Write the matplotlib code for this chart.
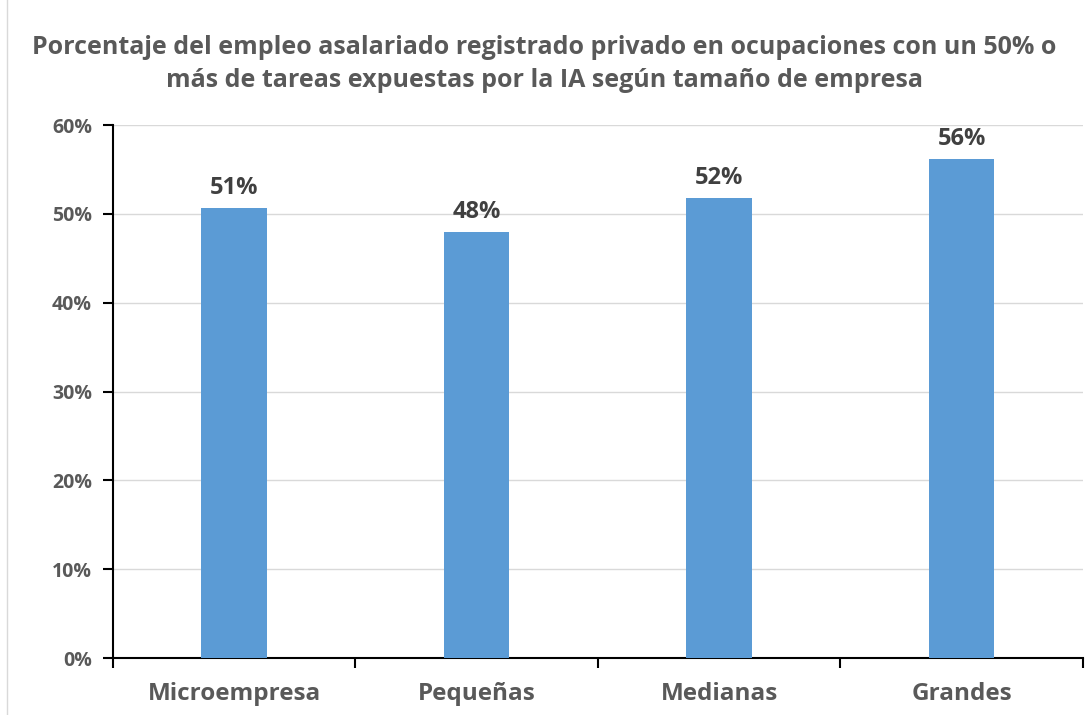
import matplotlib
matplotlib.use("Agg")
import matplotlib.pyplot as plt
from matplotlib.lines import Line2D
from matplotlib.ticker import FuncFormatter, MultipleLocator

categories = ["Microempresa", "Pequeñas", "Medianas", "Grandes"]
values = [50.7, 48.0, 51.8, 56.2]
labels = ["51%", "48%", "52%", "56%"]
title = ("Porcentaje del empleo asalariado registrado privado en ocupaciones con un 50% o\n"
         "más de tareas expuestas por la IA según tamaño de empresa")

plt.rcParams["font.family"] = ["Open Sans", "DejaVu Sans"]
plt.rcParams["font.weight"] = "bold"

fig = plt.figure(figsize=(10.85, 7.15), dpi=100)
ax = fig.add_axes([0.104, 0.0797, 0.894, 0.7453])

x = range(len(categories))
ax.bar(x, values, width=0.27, color="#5B9BD5", zorder=3)
for xi, v, lab in zip(x, values, labels):
    ax.text(xi, v + 0.9, lab, ha="center", va="bottom", fontsize=17,
            fontweight="bold", color="#404040")

ax.set_xlim(-0.5, len(categories) - 0.5)
ax.set_ylim(0, 60)
ax.yaxis.set_major_locator(MultipleLocator(10))
ax.yaxis.set_major_formatter(FuncFormatter(lambda v, p: f"{v:.0f}%"))
ax.grid(axis="y", color="#D9D9D9", linewidth=1, zorder=0)

ax.set_xticks(list(x))
ax.set_xticklabels(categories, fontsize=17.5, fontweight="bold", color="#595959")
ax.tick_params(axis="x", length=0, pad=17)
ax.set_xticks([i + 0.5 for i in range(-1, len(categories))], minor=True)
ax.tick_params(axis="x", which="minor", length=7, width=1.5, color="black")
ax.tick_params(axis="y", labelsize=14, labelcolor="#595959", length=7,
               width=1.5, pad=8)
for lab in ax.get_yticklabels():
    lab.set_fontweight("bold")

for s in ["top", "right"]:
    ax.spines[s].set_visible(False)
ax.spines["left"].set_linewidth(1.5)
ax.spines["bottom"].set_linewidth(1.5)

fig.text(0.502, 0.951, title, ha="center", va="top", fontsize=18,
         fontweight="bold", color="#595959", linespacing=1.4)
fig.add_artist(Line2D([0.0065, 0.0065], [0.0, 1.0], color="#D9D9D9",
                      linewidth=1, transform=fig.transFigure))

fig.savefig("out.png", dpi=100)
